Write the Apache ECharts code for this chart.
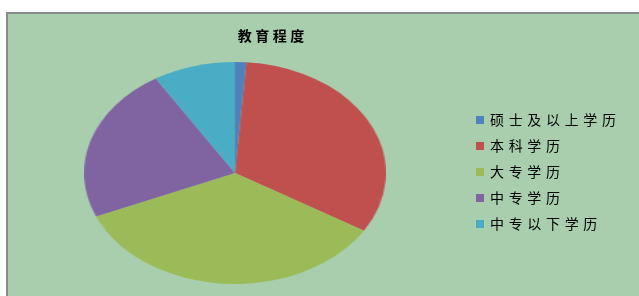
<!DOCTYPE html>
<html>
<head>
<meta charset="utf-8">
<script src="https://cdn.jsdelivr.net/npm/echarts@6/dist/echarts.min.js"></script>
<style>
  html, body { margin: 0; padding: 0; background: #ffffff; overflow: hidden; }
  #frame { position: absolute; left: 0; top: 0; width: 639px; height: 296px; }
  #area { position: absolute; left: 6px; top: 12px; width: 700px; height: 400px;
          background: #a8ceae; border-left: 2px solid #8a8a8a; border-top: 2px solid #8a8a8a; }
  #pie { position: absolute; left: 124px; top: 62px; width: 222px; height: 222px;
         transform: scaleX(1.36); transform-origin: 50% 50%; }
  #main { position: absolute; left: 0; top: 0; width: 639px; height: 296px; }
</style>
</head>
<body>
<div id="frame">
  <div id="area"></div>
  <div id="pie"></div>
  <div id="main"></div>
</div>
<script>
const categories = ['硕士及以上学历', '本科学历', '大专学历', '中专学历', '中专以下学历']
const values = [1.2, 32.5, 34.9, 22.6, 8.8]
const colors = ['#4f81bd', '#c0504d', '#9bbb59', '#8064a2', '#4bacc6']
const titleText = '教育程度'

const dataSource = categories.map((name, i) => ({ name, value: values[i] }))

// 饼图单独一个实例, 用 css 横向拉伸成椭圆
const pieChart = echarts.init(document.getElementById('pie'))
pieChart.setOption({
    animation: false,
    color: colors,
    series: [{
        type: 'pie',
        radius: ['0%', '100%'],
        center: ['50%', '50%'],
        startAngle: 90,
        clockwise: true,
        silent: true,
        label: { show: false },
        labelLine: { show: false },
        itemStyle: { borderWidth: 0 },
        data: dataSource,
    }],
})

// 标题和图例
const mainChart = echarts.init(document.getElementById('main'))
mainChart.setOption({
    animation: false,
    color: colors,
    title: {
        text: titleText.split('').join('\u2005'),
        left: 266,
        top: 24,
        textAlign: 'center',
        textStyle: {
            fontFamily: 'Noto Sans CJK SC',
            fontSize: 14,
            fontWeight: 'bold',
            color: '#000000',
        },
    },
    legend: {
        orient: 'vertical',
        left: 471,
        top: 108,
        itemWidth: 8,
        itemHeight: 8,
        itemGap: 12,
        icon: 'rect',
        selectedMode: false,
        data: categories,
        formatter: name => name.split('').join('\u2004'),
        textStyle: {
            fontFamily: 'Noto Sans CJK SC',
            fontSize: 14,
            color: '#000000',
            padding: [0, 0, 0, 1],
        },
    },
    series: [{
        // 只为图例提供颜色, 不画出来
        type: 'pie',
        radius: [0, 0],
        silent: true,
        label: { show: false },
        data: dataSource,
    }],
})
</script>
</body>
</html>
